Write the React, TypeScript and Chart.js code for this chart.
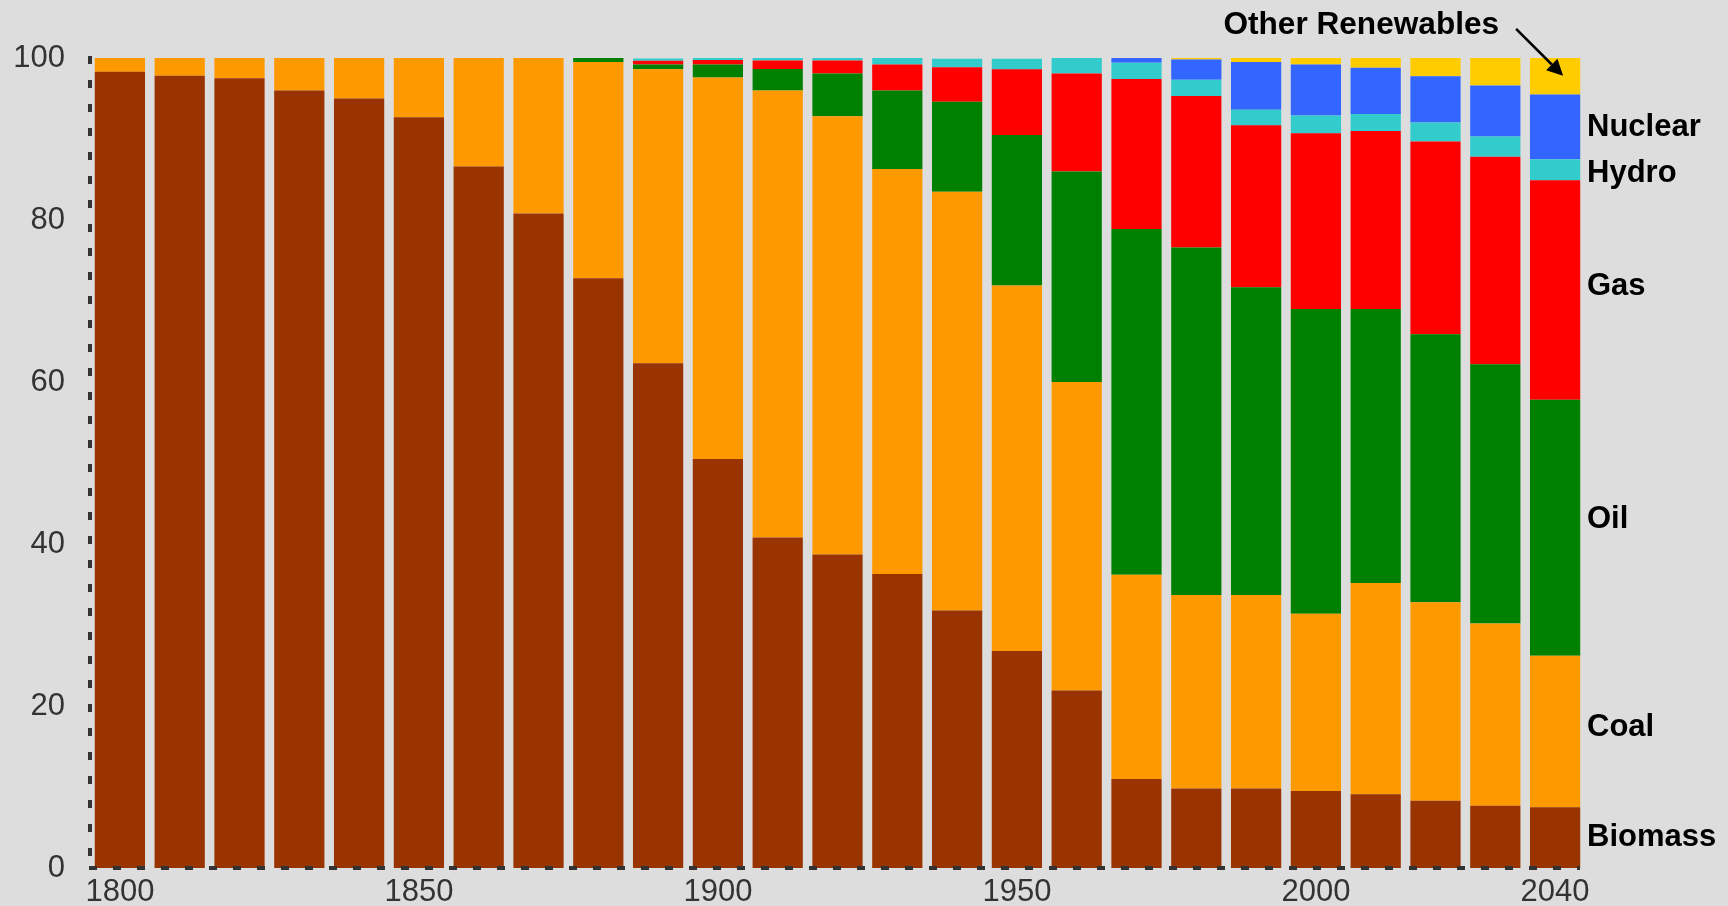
import React, { useEffect, useRef } from "react";
import { Chart, registerables } from "chart.js";

Chart.register(...registerables);

const years = [
  "1800", "1810", "1820", "1830", "1840", "1850", "1860", "1870", "1880", "1890",
  "1900", "1910", "1920", "1930", "1940", "1950", "1960", "1970", "1980", "1990",
  "2000", "2010", "2020", "2030", "2040",
];
const shownYearLabels = ["1800", "1850", "1900", "1950", "2000", "2040"];

const biomass = [98.3, 97.8, 97.5, 96.0, 95.0, 92.7, 86.6, 80.8, 72.8, 62.3, 50.5, 40.8, 38.7, 36.3, 31.8, 26.8, 21.9, 11.0, 9.8, 9.8, 9.5, 9.1, 8.3, 7.7, 7.5];
const coal = [1.7, 2.2, 2.5, 4.0, 5.0, 7.3, 13.4, 19.2, 26.7, 36.3, 47.1, 55.2, 54.1, 50.0, 51.7, 45.1, 38.1, 25.2, 23.9, 23.9, 21.9, 26.1, 24.5, 22.5, 18.7];
const oil = [0, 0, 0, 0, 0, 0, 0, 0, 0.5, 0.6, 1.6, 2.65, 5.3, 9.7, 11.1, 18.6, 26.0, 42.7, 42.9, 38.0, 37.6, 33.8, 33.1, 32.0, 31.6];
const gas = [0, 0, 0, 0, 0, 0, 0, 0, 0, 0.45, 0.55, 1.05, 1.6, 3.2, 4.25, 8.1, 12.1, 18.5, 18.7, 20.0, 21.7, 22.0, 23.8, 25.6, 27.1];
const hydro = [0, 0, 0, 0, 0, 0, 0, 0, 0, 0.3, 0.25, 0.3, 0.3, 0.8, 1.05, 1.3, 1.9, 2.0, 2.0, 1.9, 2.2, 2.1, 2.35, 2.5, 2.6];
const nuclear = [0, 0, 0, 0, 0, 0, 0, 0, 0, 0, 0, 0, 0, 0, 0, 0, 0, 0.6, 2.5, 5.9, 6.3, 5.7, 5.7, 6.3, 8.0];
const otherRenewables = [0, 0, 0, 0, 0, 0, 0, 0, 0, 0, 0, 0, 0, 0, 0, 0, 0, 0, 0.2, 0.5, 0.8, 1.2, 2.25, 3.4, 4.5];

const seriesNames = ["Biomass", "Coal", "Oil", "Gas", "Hydro", "Nuclear", "Other Renewables"];
const seriesColors = ["#993300", "#FF9900", "#008000", "#FF0000", "#33CCCC", "#3366FF", "#FFCC00"];
// label anchor levels (in % units) for the right-hand series labels
const sideLabels = ["Biomass", "Coal", "Oil", "Gas", "Hydro", "Nuclear"];
const sideLabelLevels = [4.05, 17.7, 43.3, 72.1, 86.1, 91.8];
const arrowTargetLevel = 97.8;

const FONT = "'Liberation Sans', Arial, sans-serif";

const annotationPlugin = {
  id: "annotations",
  beforeDraw(chart: any) {
    const ctx = chart.ctx;
    ctx.save();
    ctx.fillStyle = "#dddddd";
    ctx.fillRect(0, 0, chart.width, chart.height);
    ctx.restore();
  },
  afterDatasetsDraw(chart: any) {
    const ctx = chart.ctx;
    const area = chart.chartArea;
    ctx.save();
    ctx.strokeStyle = "#333333";
    ctx.lineWidth = 4;
    ctx.setLineDash([8, 16]);
    ctx.beginPath();
    ctx.moveTo(area.left, area.top - 2);
    ctx.lineTo(area.left, area.bottom + 2);
    ctx.stroke();
    ctx.beginPath();
    ctx.moveTo(area.left - 1, area.bottom);
    ctx.lineTo(area.right - 5, area.bottom);
    ctx.stroke();
    ctx.restore();
  },
  afterDraw(chart: any) {
    const ctx = chart.ctx;
    const x = chart.scales.x;
    const y = chart.scales.y;
    const area = chart.chartArea;
    const size = 31;
    ctx.save();
    ctx.fillStyle = "#000000";
    ctx.font = `bold ${size}px ${FONT}`;
    ctx.textAlign = "left";
    ctx.textBaseline = "alphabetic";
    const lx = area.right + 2;
    sideLabels.forEach((t, i) => {
      const cy = y.getPixelForValue(sideLabelLevels[i]);
      ctx.fillText(t, lx, cy + size * 0.358);
    });
    // Other Renewables arrow
    const lastX = x.getPixelForValue(years.length - 1);
    const tipX = lastX + 8;
    const tipY = y.getPixelForValue(arrowTargetLevel);
    const sx = tipX - 47;
    const sy = tipY - 47;
    ctx.textAlign = "right";
    ctx.font = `bold 31.6px ${FONT}`;
    ctx.fillText("Other Renewables", tipX - 64, area.top - 24.5);
    const ang = Math.atan2(tipY - sy, tipX - sx);
    const headLen = 16;
    const halfW = 8;
    const bx = tipX - headLen * Math.cos(ang);
    const by = tipY - headLen * Math.sin(ang);
    ctx.strokeStyle = "#000000";
    ctx.lineWidth = 2.5;
    ctx.beginPath();
    ctx.moveTo(sx, sy);
    ctx.lineTo(bx, by);
    ctx.stroke();
    ctx.beginPath();
    ctx.moveTo(tipX, tipY);
    ctx.lineTo(bx + halfW * Math.sin(ang), by - halfW * Math.cos(ang));
    ctx.lineTo(bx - halfW * Math.sin(ang), by + halfW * Math.cos(ang));
    ctx.closePath();
    ctx.fill();
    ctx.restore();
  },
};

export default function App() {
  const ref = useRef<HTMLCanvasElement | null>(null);
  useEffect(() => {
    if (!ref.current) return;
    const series = [biomass, coal, oil, gas, hydro, nuclear, otherRenewables];
    const chart = new Chart(ref.current, {
      type: "bar",
      data: {
        labels: years,
        datasets: series.map((d, i) => ({
          label: seriesNames[i],
          data: d,
          backgroundColor: seriesColors[i],
          borderWidth: 0,
          barPercentage: 0.84,
          categoryPercentage: 1,
        })),
      },
      options: {
        responsive: false,
        animation: false,
        layout: { padding: { top: 58, right: 143, left: 0, bottom: 0 } },
        plugins: { legend: { display: false }, tooltip: { enabled: false } },
        scales: {
          x: {
            stacked: true,
            grid: { display: false, drawTicks: false },
            border: { display: false },
            ticks: {
              autoSkip: false,
              maxRotation: 0,
              padding: 6,
              color: "#333333",
              font: { size: 31, family: FONT },
              callback: (_v: any, i: number) => (shownYearLabels.includes(years[i]) ? years[i] : ""),
            },
            afterFit: (s: any) => {
              s.height = 38;
              s.paddingLeft = 0;
              s.paddingRight = 0;
            },
          },
          y: {
            stacked: true,
            min: 0,
            max: 100,
            grid: { display: false, drawTicks: false },
            border: { display: false },
            ticks: {
              stepSize: 20,
              padding: 25,
              color: "#333333",
              font: { size: 31, family: FONT },
            },
            afterFit: (s: any) => {
              s.width = 90;
              s.paddingTop = 0;
              s.paddingBottom = 0;
            },
          },
        },
      },
      plugins: [annotationPlugin],
    });
    return () => chart.destroy();
  }, []);
  return (
    <div style={{ position: "absolute", left: 0, top: 0, width: 1728, height: 906, background: "#dddddd" }}>
      <canvas ref={ref} width={1728} height={906} style={{ display: "block" }} />
    </div>
  );
}
